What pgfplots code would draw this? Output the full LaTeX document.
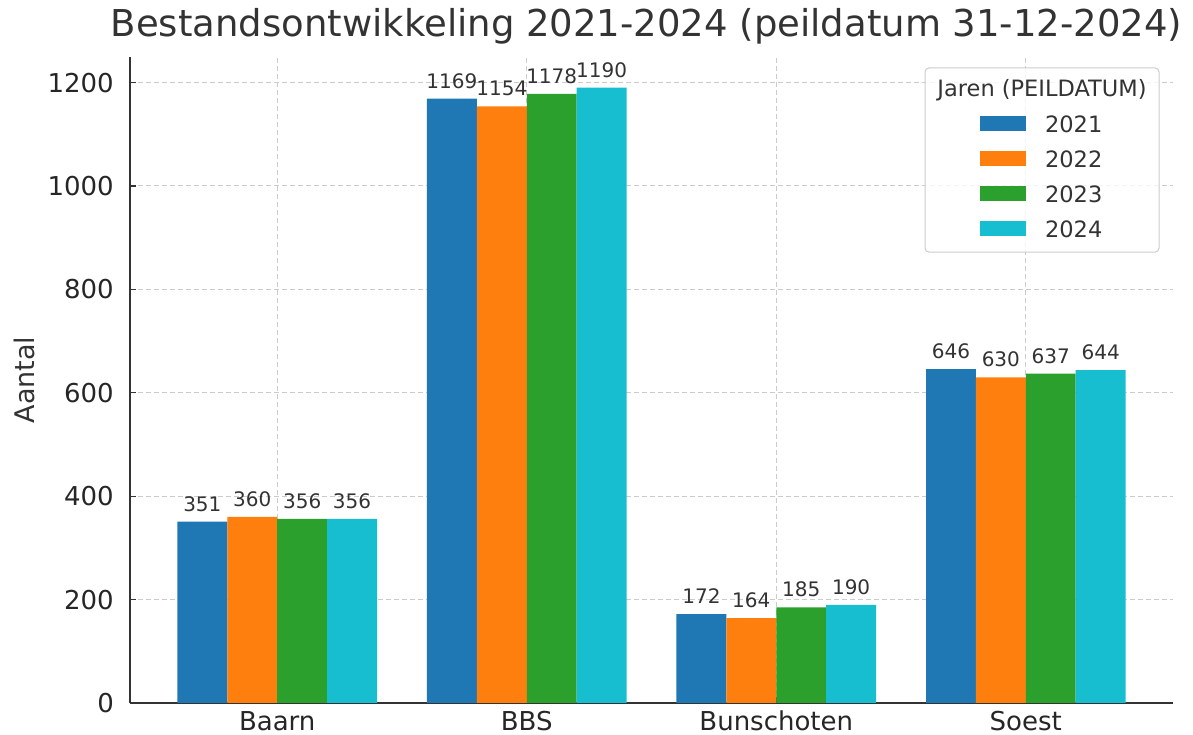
\documentclass[border=0pt]{standalone}
\usepackage{fontspec}
\setmainfont{DejaVu Sans}
\usepackage{pgfplots}
\pgfplotsset{compat=1.18}
\definecolor{cA}{HTML}{1F77B4}
\definecolor{cB}{HTML}{FF7F0E}
\definecolor{cC}{HTML}{2CA02C}
\definecolor{cD}{HTML}{17BECF}
\definecolor{txt}{HTML}{333333}
\definecolor{gridc}{HTML}{CCCCCC}
\definecolor{legc}{HTML}{CCCCCC}
\begin{document}
\begin{tikzpicture}
\useasboundingbox (-130pt,-32pt) rectangle (1063pt,703pt);
\begin{axis}[
  at={(0,0)}, anchor=south west,
  width=1043pt, height=646pt, scale only axis,
  xmin=-0.59, xmax=3.59, ymin=0, ymax=1249.5,
  axis x line*=bottom, axis y line*=left,
  axis line style={-, line width=1.6pt, color=txt},
  xtick={0,1,2,3}, xticklabels={Baarn,BBS,Bunschoten,Soest},
  ytick={0,200,...,1200},
  tick align=inside, major tick length=6pt,
  tick style={line width=1.2pt, color=txt},
  grid=major, grid style={dashed, dash pattern=on 5pt off 3pt, gridc, line width=1pt},
  /pgf/number format/assume math mode=true,
  /pgf/number format/1000 sep={},
  ticklabel style={font=\fontsize{26}{31}\selectfont, text=black!85},
  xticklabel style={anchor=base, inner sep=0pt, yshift=-28pt},
  yticklabel style={anchor=east, inner sep=0pt, xshift=-16pt},
  ylabel={Aantal},
  ylabel style={at={(rel axis cs:-0.0911,0.5)}, anchor=base, font=\fontsize{27}{32}\selectfont, text=txt, inner sep=0pt},
  title={Bestandsontwikkeling 2021-2024 (peildatum 31-12-2024)},
  title style={at={(0.5,1)}, anchor=base, yshift=14pt, xshift=-5pt, font=\fontsize{37}{44}\selectfont, text=txt, inner sep=0pt},
  clip=false,
  nodes near coords,
  nodes near coords style={font=\fontsize{20}{24}\selectfont, text=txt, anchor=south, inner sep=0pt, yshift=10pt},
  legend style={at={(0.815,0.9234)}, anchor=north west, draw=none, fill=none,
    font=\fontsize{22.5}{27}\selectfont, text=txt, inner sep=0pt, outer sep=0pt, row sep=0pt,
    nodes={inner sep=0pt, text height=25.7pt, text depth=9.3pt},
    /tikz/every odd column/.append style={column sep=19pt}},
  legend image code/.code={\fill[#1] (0pt,-7.5pt) rectangle (46pt,7.5pt);},
  legend cell align=left,
]
\addplot[ybar, bar width=0.2, bar shift=-0.3, fill=cA, draw=none,
  every node near coord/.append style={shift={(axis direction cs:-0.3,0)}}] coordinates {(0,351) (1,1169) (2,172) (3,646)};
\addplot[ybar, bar width=0.2, bar shift=-0.1, fill=cB, draw=none,
  every node near coord/.append style={shift={(axis direction cs:-0.1,0)}}] coordinates {(0,360) (1,1154) (2,164) (3,630)};
\addplot[ybar, bar width=0.2, bar shift=0.1, fill=cC, draw=none,
  every node near coord/.append style={shift={(axis direction cs:0.1,0)}}] coordinates {(0,356) (1,1178) (2,185) (3,637)};
\addplot[ybar, bar width=0.2, bar shift=0.3, fill=cD, draw=none,
  every node near coord/.append style={shift={(axis direction cs:0.3,0)}}] coordinates {(0,356) (1,1190) (2,190) (3,644)};
\legend{2021,2022,2023,2024}
\draw[legc, line width=1pt, rounded corners=4pt, fill=white, fill opacity=0.8] (rel axis cs:0.7622,0.698) rectangle (rel axis cs:0.9866,0.983);
\node[font=\fontsize{22.5}{27}\selectfont, text=txt, anchor=center] at (rel axis cs:0.8744,0.949) {Jaren (PEILDATUM)};
\end{axis}
\end{tikzpicture}
\end{document}
